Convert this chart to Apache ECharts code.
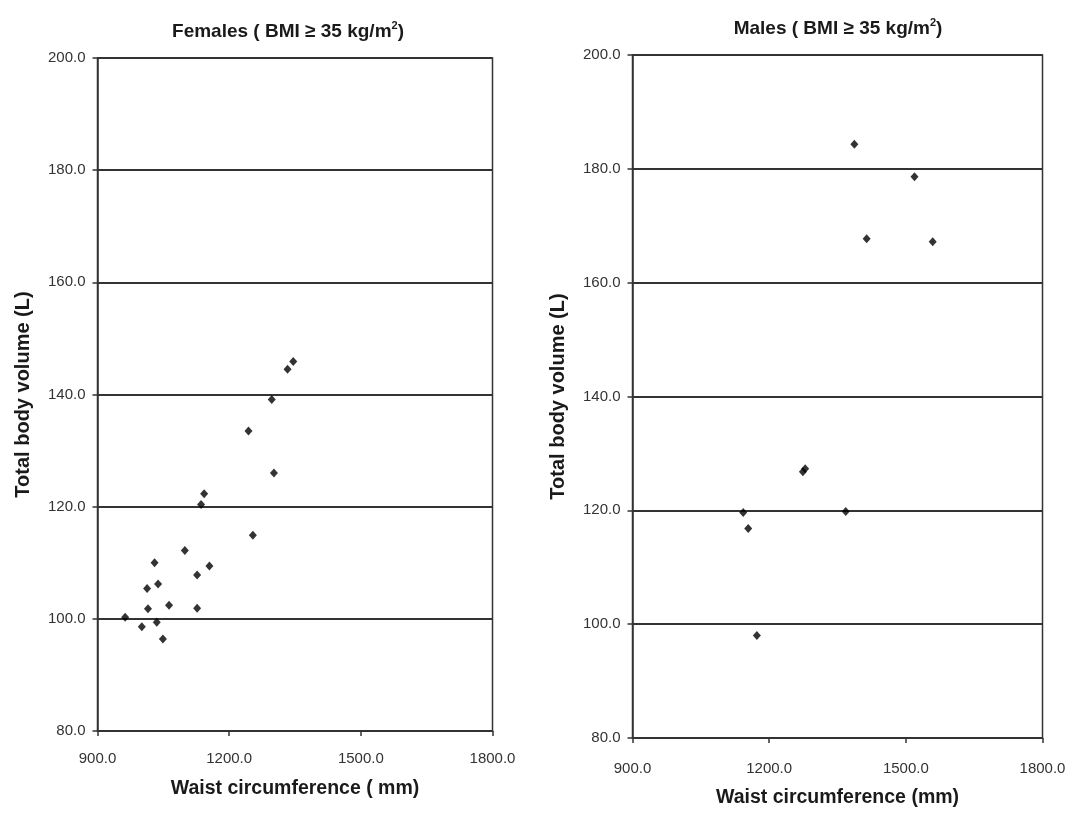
<!DOCTYPE html>
<html>
<head>
<meta charset="utf-8">
<script src="https://cdn.jsdelivr.net/npm/echarts@6/dist/echarts.min.js"></script>
<style>
  html, body { margin: 0; padding: 0; background: #fff; }
  #chart { width: 1074px; height: 813px; }
</style>
</head>
<body>
<div id="chart"></div>
<script>
// Waist circumference (mm) and total body volume (L), BMI >= 35 kg/m2
const femaleWaist  = [1346, 1333, 1297, 1244, 1302, 1143, 1136, 1254, 1099, 1030, 1155, 1127, 1038, 1013, 1015, 1063, 1127, 963, 1001, 1035, 1049];
const femaleVolume = [145.9, 144.5, 139.1, 133.5, 126.0, 122.3, 120.4, 114.9, 112.2, 110.0, 109.4, 107.8, 106.2, 105.4, 101.8, 102.4, 101.9, 100.3, 98.6, 99.4, 96.4];

const maleWaist  = [1387, 1519, 1414, 1559, 1274, 1279, 1143, 1154, 1368, 1173];
const maleVolume = [184.3, 178.6, 167.7, 167.2, 126.8, 127.3, 119.6, 116.8, 119.8, 98.0];

const panelTitles = ['Females ( BMI \u2265 35 kg/m{sup|2})', 'Males ( BMI \u2265 35 kg/m{sup|2})'];
const xTitles = ['Waist circumference ( mm)', 'Waist circumference (mm)'];
const yTitle = 'Total body volume (L)';

const xRange = { min: 900, max: 1800, interval: 300 };
const yRange = { min: 80, max: 200, interval: 20 };

const FONT = '"Liberation Sans", Arial, sans-serif';
const INK = '#1a1a1a';

const pair = (xs, ys) => xs.map((x, i) => [x, ys[i]]);

const grids = [
  { left: 97.5, top: 58, width: 395, height: 673 },
  { left: 632.5, top: 55, width: 410, height: 684 }
];

const xLabelMargin = [20, 23];
const xNameGap = [48, 50];

const supStyle = { fontFamily: FONT, fontSize: 11, fontWeight: 'bold', color: INK, verticalAlign: 'top', padding: [0, 0, 12, 0] };

const chart = echarts.init(document.getElementById('chart'), null, { renderer: 'canvas' });

chart.setOption({
  backgroundColor: '#fff',
  animation: false,
  title: [
    { text: panelTitles[0], left: 283, top: 15, textAlign: 'center',
      textStyle: { fontFamily: FONT, fontSize: 19, fontWeight: 'bold', color: INK, rich: { sup: supStyle } } },
    { text: panelTitles[1], left: 833, top: 12, textAlign: 'center',
      textStyle: { fontFamily: FONT, fontSize: 19, fontWeight: 'bold', color: INK, rich: { sup: supStyle } } }
  ],
  grid: grids.map(g => Object.assign({ show: true, borderColor: '#333', borderWidth: 1.5, backgroundColor: '#fff' }, g)),
  xAxis: [0, 1].map(i => ({
    type: 'value', gridIndex: i,
    min: xRange.min, max: xRange.max, interval: xRange.interval,
    name: xTitles[i], nameLocation: 'middle', nameGap: xNameGap[i],
    nameTextStyle: { fontFamily: FONT, fontSize: 19.5, fontWeight: 'bold', color: INK },
    axisLine: { show: true, lineStyle: { color: '#333', width: 1.5 } },
    axisTick: { show: true, inside: false, length: 5, lineStyle: { color: '#333', width: 1.5 } },
    axisLabel: { fontFamily: FONT, fontSize: 15, color: '#333', margin: xLabelMargin[i],
      formatter: v => v.toFixed(1) },
    splitLine: { show: false }
  })),
  yAxis: [0, 1].map(i => ({
    type: 'value', gridIndex: i,
    min: yRange.min, max: yRange.max, interval: yRange.interval,
    name: yTitle, nameLocation: 'middle', nameGap: 64,
    nameTextStyle: { fontFamily: FONT, fontSize: 20, fontWeight: 'bold', color: INK },
    axisLine: { show: true, lineStyle: { color: '#333', width: 1.5 } },
    axisTick: { show: true, inside: false, length: 5, lineStyle: { color: '#333', width: 1.5 } },
    axisLabel: { fontFamily: FONT, fontSize: 15, color: '#333', margin: 12,
      formatter: v => v.toFixed(1) },
    splitLine: { show: true, lineStyle: { color: '#333', width: 2 } }
  })),
  series: [
    { type: 'scatter', xAxisIndex: 0, yAxisIndex: 0, symbol: 'diamond', symbolSize: [8, 9],
      itemStyle: { color: '#000' }, data: pair(femaleWaist, femaleVolume) },
    { type: 'scatter', xAxisIndex: 1, yAxisIndex: 1, symbol: 'diamond', symbolSize: [8, 9],
      itemStyle: { color: '#000' }, data: pair(maleWaist, maleVolume) }
  ]
});
</script>
</body>
</html>
